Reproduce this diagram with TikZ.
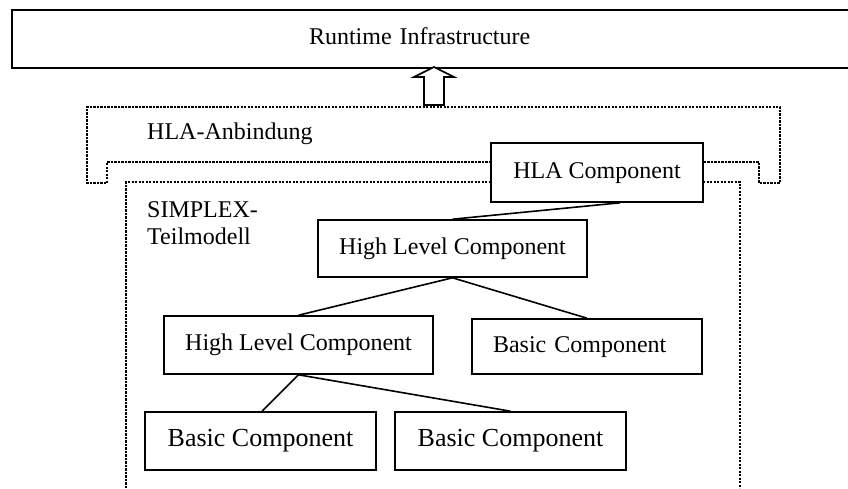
\documentclass[tikz,border=0pt]{standalone}
\usepackage{fontspec}
\setmainfont{Liberation Serif}
\begin{document}
\begin{tikzpicture}[x=1pt,y=-1pt,
  box/.style={draw, line width=1.6pt, fill=white, inner sep=0pt,
    font=\fontsize{24}{28}\selectfont, text height=16pt, text depth=5pt},
  bigtext/.style={font=\fontsize{26}{30}\selectfont, text height=17pt, text depth=6pt},
  dots/.style={line width=2.2pt, dash pattern=on 2.2pt off 1.3pt},
  wire/.style={line width=1.6pt},
  lbl/.style={font=\fontsize{24}{27}\selectfont, inner sep=0pt, anchor=base west, align=left}]
\useasboundingbox (0,0) rectangle (848,488);

% dotted region outlines
\draw[dots] (491,162) -- (107,162) -- (107,183) -- (87,183) -- (87,107)
  -- (780,107) -- (780,183) -- (759,183) -- (759,162) -- (703,162);
\draw[dots] (126,488) -- (126,182) -- (491,182);
\draw[dots] (703,182) -- (740,182) -- (740,488);

% labels of regions
\node[lbl] (anb) at (147,139) {HLA-Anbindung};
\node[lbl] (spx) at (147,244) {SIMPLEX-\\Teilmodell};

% boxes
\node[box, line width=2pt, minimum width=849pt, minimum height=58pt,
  inner xsep=297pt, text width=255pt, align=left, anchor=north west] (rti) at (11,9) {Runtime Infrastructure};
\node[box, minimum width=212pt, minimum height=59pt] (hla) at (597,172.5) {HLA Component};
\node[box, minimum width=269pt, minimum height=57pt] (hlc1) at (452.5,248.5) {High Level Component};
\node[box, minimum width=269pt, minimum height=58pt] (hlc2) at (298.5,345) {High Level Component};
\node[box, minimum width=230pt, minimum height=55pt, inner xsep=21pt, text width=188pt, align=left] (bc1) at (587,346.5) {Basic Component};
\node[box, bigtext, minimum width=231pt, minimum height=58pt] (bc2) at (260.5,441) {Basic Component};
\node[box, bigtext, minimum width=231pt, minimum height=58pt] (bc3) at (510.5,441) {Basic Component};

% hollow arrow up to the RTI
\coordinate (tip) at (434,67);
\draw[line width=1.6pt, fill=white, line join=miter] (tip) -- ++(20,10) -- ++(-10,0) -- ++(0,28)
  -- ++(-20,0) -- ++(0,-28) -- ++(-10,0) -- cycle;

% connectors
\draw[wire] ([xshift=23pt]hla.south) -- (hlc1.north);
\draw[wire] (hlc1.south) -- (hlc2.north);
\draw[wire] (hlc1.south) -- (bc1.north);
\draw[wire] (hlc2.south) -- ([xshift=1.5pt]bc2.north);
\draw[wire] (hlc2.south) -- (bc3.north);
\end{tikzpicture}
\end{document}
